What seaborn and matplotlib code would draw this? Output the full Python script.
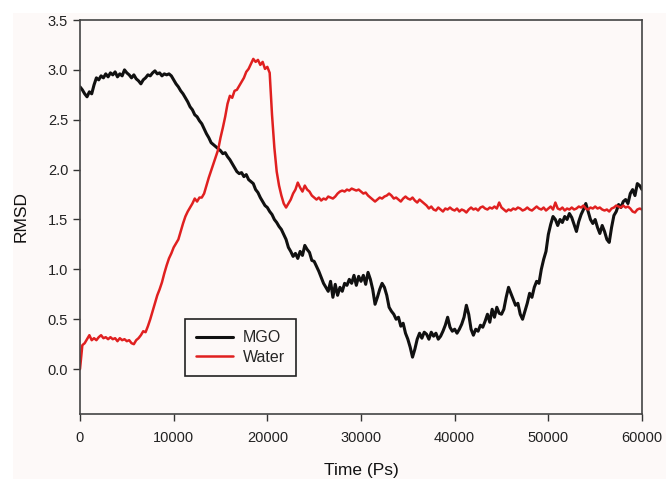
import numpy as np
import pandas as pd
import matplotlib
matplotlib.use("Agg")
import matplotlib.pyplot as plt
import seaborn as sns

# sampled every 250 ps, 0 .. 60000
time_ps = np.arange(0, 60001, 250)

mgo = [
    2.83, 2.80, 2.76, 2.73, 2.78, 2.76, 2.85, 2.92, 2.90, 2.94, 2.92, 2.96, 2.93, 2.97, 2.95, 2.98, 2.93, 2.96, 2.94, 3.00,
    2.97, 2.95, 2.92, 2.95, 2.91, 2.89, 2.86, 2.90, 2.92, 2.95, 2.94, 2.97, 2.99, 2.96, 2.97, 2.94, 2.96, 2.95, 2.96, 2.94,
    2.90, 2.86, 2.83, 2.79, 2.76, 2.72, 2.68, 2.63, 2.60, 2.55, 2.53, 2.49, 2.46, 2.41, 2.36, 2.32, 2.27, 2.25, 2.23, 2.21,
    2.19, 2.16, 2.17, 2.13, 2.10, 2.06, 2.02, 1.98, 1.96, 1.97, 1.93, 1.95, 1.90, 1.88, 1.86, 1.80, 1.77, 1.72, 1.68, 1.64,
    1.62, 1.58, 1.55, 1.50, 1.47, 1.43, 1.40, 1.35, 1.30, 1.22, 1.18, 1.13, 1.16, 1.11, 1.18, 1.14, 1.24, 1.20, 1.17, 1.09,
    1.08, 1.03, 0.98, 0.92, 0.86, 0.82, 0.78, 0.88, 0.72, 0.85, 0.74, 0.82, 0.78, 0.86, 0.84, 0.90, 0.86, 0.94, 0.84, 0.93,
    0.88, 0.94, 0.85, 0.97, 0.90, 0.80, 0.65, 0.72, 0.80, 0.86, 0.82, 0.74, 0.62, 0.58, 0.55, 0.50, 0.52, 0.43, 0.46, 0.36,
    0.30, 0.22, 0.12, 0.20, 0.30, 0.36, 0.31, 0.37, 0.35, 0.30, 0.37, 0.33, 0.36, 0.30, 0.33, 0.38, 0.44, 0.52, 0.42, 0.38,
    0.40, 0.36, 0.40, 0.45, 0.52, 0.64, 0.55, 0.40, 0.34, 0.40, 0.38, 0.44, 0.42, 0.48, 0.55, 0.47, 0.60, 0.52, 0.62, 0.56,
    0.55, 0.60, 0.72, 0.82, 0.76, 0.70, 0.64, 0.66, 0.55, 0.50, 0.58, 0.66, 0.76, 0.72, 0.82, 0.88, 0.86, 1.00, 1.10, 1.18,
    1.35, 1.45, 1.53, 1.50, 1.44, 1.50, 1.47, 1.53, 1.50, 1.56, 1.52, 1.45, 1.38, 1.48, 1.55, 1.60, 1.66, 1.58, 1.50, 1.46,
    1.50, 1.42, 1.36, 1.44, 1.38, 1.30, 1.27, 1.42, 1.54, 1.58, 1.65, 1.62, 1.68, 1.70, 1.66, 1.76, 1.80, 1.74, 1.86, 1.84,
    1.80,
]

water = [
    0.00, 0.24, 0.26, 0.30, 0.34, 0.29, 0.31, 0.29, 0.32, 0.34, 0.31, 0.32, 0.30, 0.32, 0.30, 0.31, 0.28, 0.31, 0.29, 0.30,
    0.28, 0.29, 0.26, 0.25, 0.29, 0.31, 0.34, 0.38, 0.37, 0.43, 0.50, 0.58, 0.66, 0.74, 0.80, 0.87, 0.96, 1.04, 1.11, 1.16,
    1.22, 1.26, 1.30, 1.38, 1.46, 1.53, 1.58, 1.62, 1.66, 1.71, 1.68, 1.72, 1.72, 1.76, 1.84, 1.92, 1.99, 2.06, 2.13, 2.20,
    2.32, 2.42, 2.53, 2.66, 2.74, 2.72, 2.79, 2.80, 2.84, 2.88, 2.92, 2.98, 3.01, 3.06, 3.11, 3.08, 3.10, 3.05, 3.08, 3.01,
    3.03, 2.97, 2.55, 2.22, 1.98, 1.84, 1.74, 1.66, 1.62, 1.66, 1.70, 1.76, 1.80, 1.87, 1.82, 1.78, 1.84, 1.80, 1.78, 1.74,
    1.72, 1.70, 1.72, 1.69, 1.71, 1.70, 1.73, 1.72, 1.71, 1.73, 1.76, 1.78, 1.79, 1.78, 1.80, 1.79, 1.81, 1.80, 1.79, 1.80,
    1.78, 1.76, 1.77, 1.74, 1.72, 1.70, 1.68, 1.70, 1.72, 1.71, 1.73, 1.74, 1.76, 1.74, 1.71, 1.72, 1.70, 1.68, 1.71, 1.73,
    1.71, 1.70, 1.72, 1.69, 1.67, 1.70, 1.68, 1.66, 1.64, 1.61, 1.63, 1.60, 1.59, 1.62, 1.60, 1.58, 1.61, 1.60, 1.62, 1.60,
    1.59, 1.61, 1.58, 1.60, 1.59, 1.57, 1.60, 1.62, 1.60, 1.61, 1.59, 1.62, 1.63, 1.61, 1.60, 1.62, 1.61, 1.63, 1.61, 1.67,
    1.62, 1.60, 1.58, 1.60, 1.59, 1.61, 1.60, 1.62, 1.61, 1.59, 1.60, 1.62, 1.60, 1.59, 1.61, 1.63, 1.61, 1.60, 1.62, 1.59,
    1.61, 1.63, 1.60, 1.67, 1.61, 1.60, 1.62, 1.59, 1.61, 1.60, 1.62, 1.60, 1.61, 1.63, 1.62, 1.64, 1.61, 1.60, 1.62, 1.61,
    1.63, 1.61, 1.62, 1.60, 1.59, 1.60, 1.58, 1.61, 1.62, 1.64, 1.63, 1.62, 1.64, 1.62, 1.63, 1.61, 1.58, 1.57, 1.60, 1.61,
    1.60,
]

x_ticks = [0, 10000, 20000, 30000, 40000, 50000, 60000]
y_ticks = [0.0, 0.5, 1.0, 1.5, 2.0, 2.5, 3.0, 3.5]

sns.set_style("ticks")
plt.rcParams['font.family'] = ['Liberation Sans', 'DejaVu Sans']

bg = "#fdf9f8"
df = pd.DataFrame({"time": time_ps, "MGO": mgo, "Water": water})

fig = plt.figure(figsize=(6.66, 4.79), dpi=100)
fig.patch.set_facecolor("white")
fig.add_artist(plt.Rectangle((13 / 666, 0), 1, 1 - 13 / 479, transform=fig.transFigure,
                             facecolor=bg, edgecolor="none", zorder=-10))
ax = fig.add_axes([80 / 666, 1 - 414 / 479, 562 / 666, 394 / 479])
ax.set_facecolor(bg)

sns.lineplot(data=df, x="time", y="MGO", ax=ax, color="#111111", linewidth=2.2, label="MGO")
sns.lineplot(data=df, x="time", y="Water", ax=ax, color="#e02020", linewidth=1.8, label="Water")

ax.set_xlim(0, 60000)
ax.set_ylim(-0.45, 3.5)
ax.set_xticks(x_ticks)
ax.set_yticks(y_ticks)
ax.set_yticklabels([f"{v:.1f}" for v in y_ticks])
ax.tick_params(axis="both", labelsize=10.5, direction="out", length=5, width=1,
               color="#333333", labelcolor="#222222")
ax.tick_params(axis="x", pad=7)
ax.set_xlabel("Time (Ps)", fontsize=12.5, color="#111111", labelpad=13)
ax.set_ylabel("RMSD", fontsize=12.5, color="#111111", labelpad=14)

for side in ["left", "bottom", "top", "right"]:
    ax.spines[side].set_visible(True)
    ax.spines[side].set_color("#444444")
    ax.spines[side].set_linewidth(1.2)

leg = ax.legend(loc="upper left", bbox_to_anchor=(105 / 562, 95 / 394), borderaxespad=0,
                fontsize=11.5, frameon=True, fancybox=False, handlelength=2.3,
                borderpad=0.7, labelspacing=0.3, handletextpad=0.6)
leg.get_frame().set_edgecolor("#222222")
leg.get_frame().set_linewidth(1.2)
leg.get_frame().set_facecolor(bg)
leg.get_frame().set_alpha(1)

fig.savefig("out.png", dpi=100, facecolor=fig.get_facecolor())
